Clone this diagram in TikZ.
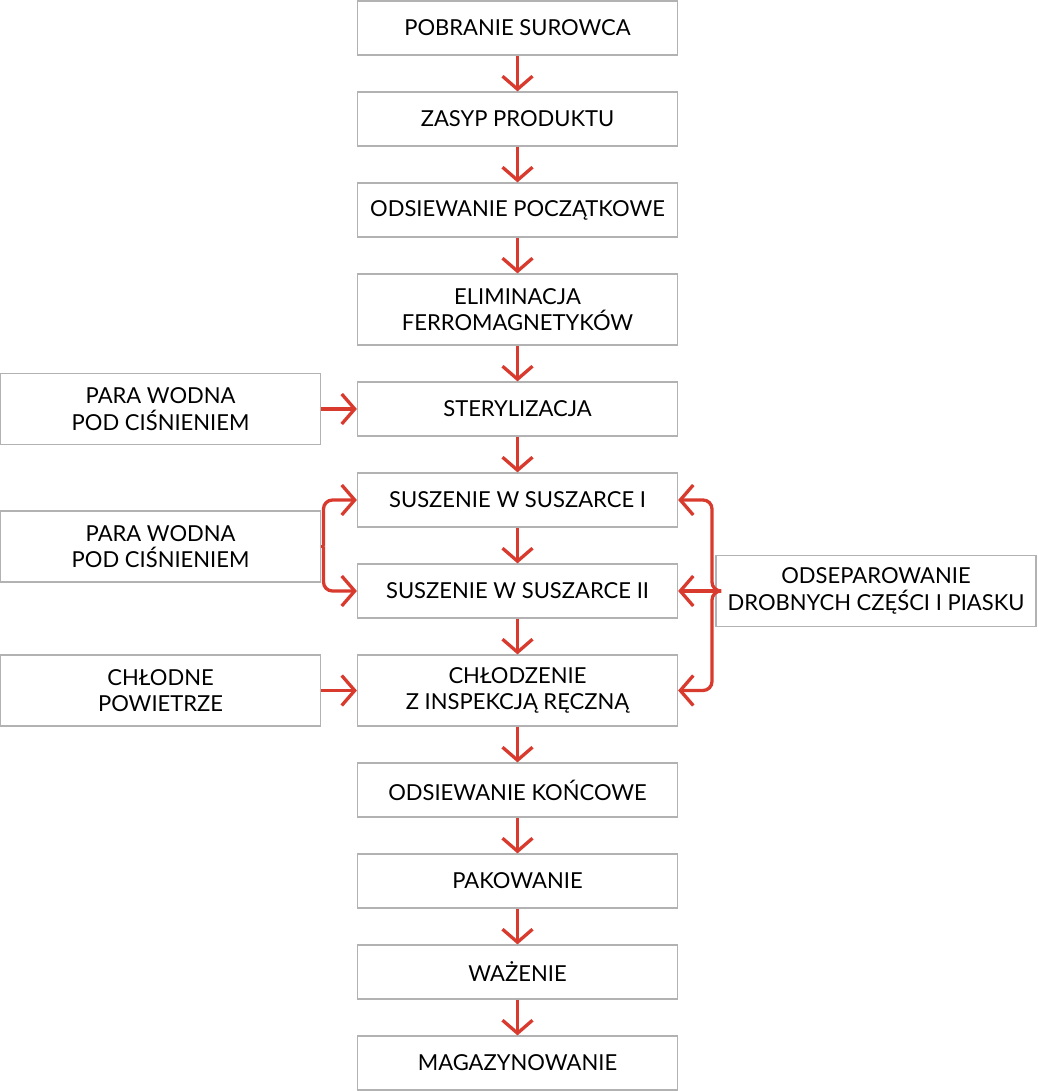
\documentclass[tikz,border=0pt]{standalone}
\usepackage{fontspec}
\setmainfont{Lato}
\usetikzlibrary{arrows.meta}
\definecolor{arrred}{RGB}{217,58,46}
\definecolor{boxgray}{RGB}{178,178,178}
\tikzset{
 box/.style={draw=boxgray, line width=1.2pt, minimum width=320pt, align=center, inner sep=0pt, font=\fontsize{22}{26.5}\selectfont, text=black},
 sbox/.style={box, minimum height=54pt},
 tbox/.style={box, minimum height=71pt},
 flow/.style={draw=arrred, line width=3.3pt, -{Straight Barb[length=13pt,width=30pt]}},
 link/.style={draw=arrred, line width=3.3pt},
}
\begin{document}
\begin{tikzpicture}[x=1pt,y=-1pt]
\useasboundingbox (0,0) rectangle (1037,1091);
\node[sbox] (n1) at (517.5,28) {POBRANIE SUROWCA};
\node[sbox] (n2) at (517.5,119) {ZASYP PRODUKTU};
\node[sbox] (n3) at (517.5,210) {ODSIEWANIE POCZĄTKOWE};
\node[tbox] (n4) at (517.5,309.5) {ELIMINACJA\\FERROMAGNETYKÓW};
\node[sbox] (n5) at (517.5,409) {STERYLIZACJA};
\node[sbox] (n6) at (517.5,500) {SUSZENIE W SUSZARCE I};
\node[sbox] (n7) at (517.5,591) {SUSZENIE W SUSZARCE II};
\node[tbox] (n8) at (517.5,690.5) {CHŁODZENIE\\Z INSPEKCJĄ RĘCZNĄ};
\node[sbox] (n9) at (517.5,790) {ODSIEWANIE KOŃCOWE};
\node[sbox] (n10) at (517.5,881) {PAKOWANIE};
\node[sbox] (n11) at (517.5,972) {WAŻENIE};
\node[sbox] (n12) at (517.5,1063) {MAGAZYNOWANIE};
\node[tbox] (l1) at (160.6,409) {PARA WODNA\\POD CIŚNIENIEM};
\node[tbox] (l2) at (160.6,546.5) {PARA WODNA\\POD CIŚNIENIEM};
\node[tbox] (l3) at (160.6,690.5) {CHŁODNE\\POWIETRZE};
\node[tbox] (r1) at (876,591) {ODSEPAROWANIE\\DROBNYCH CZĘŚCI I PIASKU};
\foreach \a/\b in {n1/n2,n2/n3,n3/n4,n4/n5,n5/n6,n6/n7,n7/n8,n8/n9,n9/n10,n10/n11,n11/n12}
  \draw[flow] (\a.south) -- (\b.north);
\draw[flow] (l1.east) -- (n5.west);
\draw[flow] (l3.east) -- (n8.west);
\coordinate (jl) at (323.5,546.5);
\draw[link] (l2.east) -- (jl);
\draw[flow, rounded corners=9pt] (jl) |- (n6.west);
\draw[flow, rounded corners=9pt] (jl) |- (n7.west);
\coordinate (jr) at (712,591);
\draw[flow, rounded corners=9pt] (r1.west) -- (jr) |- (n6.east);
\draw[flow, rounded corners=9pt] (r1.west) -- (jr) |- (n8.east);
\draw[flow] (r1.west) -- (n7.east);
\end{tikzpicture}
\end{document}
